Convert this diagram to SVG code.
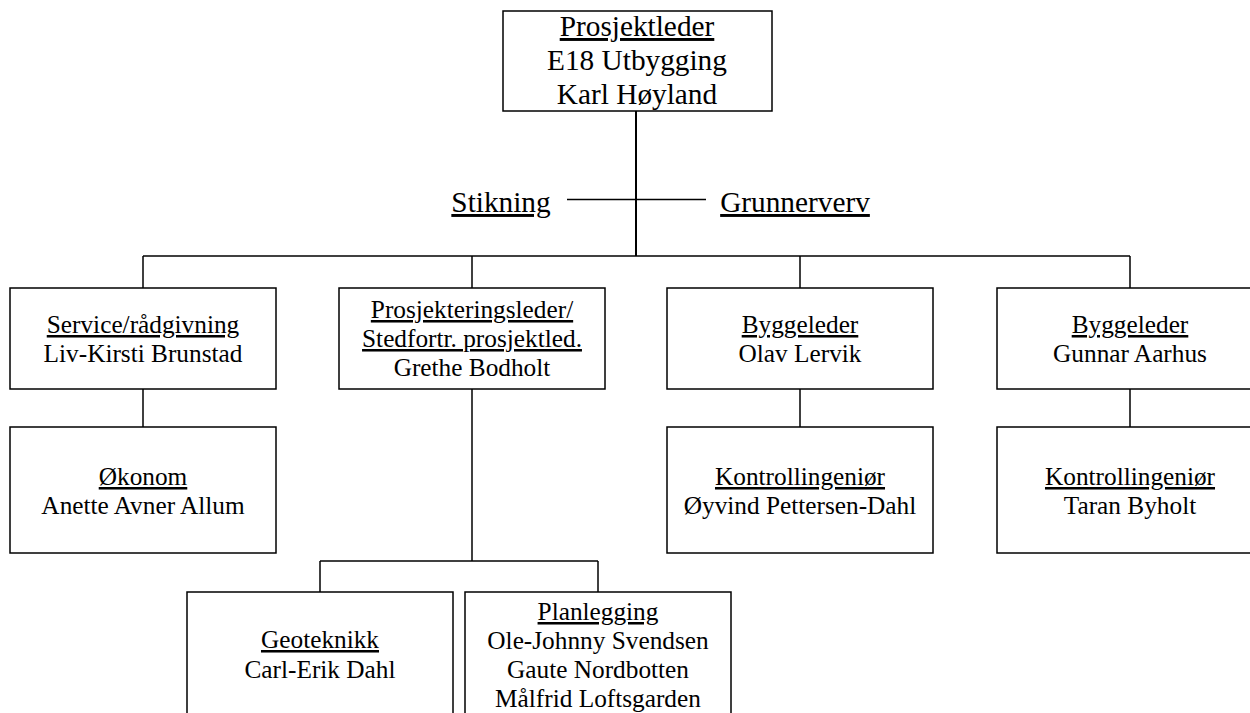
<svg xmlns="http://www.w3.org/2000/svg" width="1250" height="713" viewBox="0 0 1250 713">
<style>
text{font-family:"Liberation Serif","Times New Roman",serif;fill:#000;text-anchor:middle}
.b{font-size:29.3px}
.s{font-size:25.3px}
.u{text-decoration:underline}
rect{fill:#fff;stroke:#000;stroke-width:1.5}
.c line{stroke:#000;stroke-width:1.5}
</style>
<rect x="0" y="0" width="1250" height="713" style="stroke:none"/>
<g class="c" id="connectors">
<line x1="636" y1="111" x2="636" y2="256" style="stroke-width:2"/>
<line x1="567" y1="199.5" x2="706" y2="199.5"/>
<line x1="143" y1="256" x2="1130" y2="256"/>
<line x1="143" y1="256" x2="143" y2="288"/>
<line x1="472" y1="256" x2="472" y2="288"/>
<line x1="800" y1="256" x2="800" y2="288"/>
<line x1="1130" y1="256" x2="1130" y2="288"/>
<line x1="143" y1="389" x2="143" y2="427"/>
<line x1="800" y1="389" x2="800" y2="427"/>
<line x1="1130" y1="389" x2="1130" y2="427"/>
<line x1="472" y1="389" x2="472" y2="561"/>
<line x1="320" y1="561" x2="598" y2="561"/>
<line x1="320" y1="561" x2="320" y2="592"/>
<line x1="598" y1="561" x2="598" y2="592"/>
</g>
<g id="top">
<rect x="503" y="11" width="269" height="100"/>
<text class="b u" x="637" y="36">Prosjektleder</text>
<text class="b" x="637" y="70">E18 Utbygging</text>
<text class="b" x="637" y="104">Karl Høyland</text>
</g>
<g id="stikning"><text class="b u" x="501" y="212">Stikning</text></g>
<g id="grunnerverv"><text class="b u" x="795" y="212">Grunnerverv</text></g>
<g id="service">
<rect x="10" y="288" width="266" height="101"/>
<text class="s u" x="143" y="333">Service/rådgivning</text>
<text class="s" x="143" y="362">Liv-Kirsti Brunstad</text>
</g>
<g id="prosjektering">
<rect x="339" y="288" width="266" height="101"/>
<text class="s u" x="472" y="318">Prosjekteringsleder/</text>
<text class="s u" x="472" y="347">Stedfortr. prosjektled.</text>
<text class="s" x="472" y="376">Grethe Bodholt</text>
</g>
<g id="bygg1">
<rect x="667" y="288" width="266" height="101"/>
<text class="s u" x="800" y="333">Byggeleder</text>
<text class="s" x="800" y="362">Olav Lervik</text>
</g>
<g id="bygg2">
<rect x="997" y="288" width="266" height="101"/>
<text class="s u" x="1130" y="333">Byggeleder</text>
<text class="s" x="1130" y="362">Gunnar Aarhus</text>
</g>
<g id="okonom">
<rect x="10" y="427" width="266" height="126"/>
<text class="s u" x="143" y="485">Økonom</text>
<text class="s" x="143" y="514">Anette Avner Allum</text>
</g>
<g id="kontroll1">
<rect x="667" y="427" width="266" height="126"/>
<text class="s u" x="800" y="485">Kontrollingeniør</text>
<text class="s" x="800" y="514">Øyvind Pettersen-Dahl</text>
</g>
<g id="kontroll2">
<rect x="997" y="427" width="266" height="126"/>
<text class="s u" x="1130" y="485">Kontrollingeniør</text>
<text class="s" x="1130" y="514">Taran Byholt</text>
</g>
<g id="geoteknikk">
<rect x="187" y="592" width="266" height="140"/>
<text class="s u" x="320" y="648">Geoteknikk</text>
<text class="s" x="320" y="678">Carl-Erik Dahl</text>
</g>
<g id="planlegging">
<rect x="465" y="592" width="266" height="140"/>
<text class="s u" x="598" y="620">Planlegging</text>
<text class="s" x="598" y="649">Ole-Johnny Svendsen</text>
<text class="s" x="598" y="678">Gaute Nordbotten</text>
<text class="s" x="598" y="707">Målfrid Loftsgarden</text>
</g>
</svg>
